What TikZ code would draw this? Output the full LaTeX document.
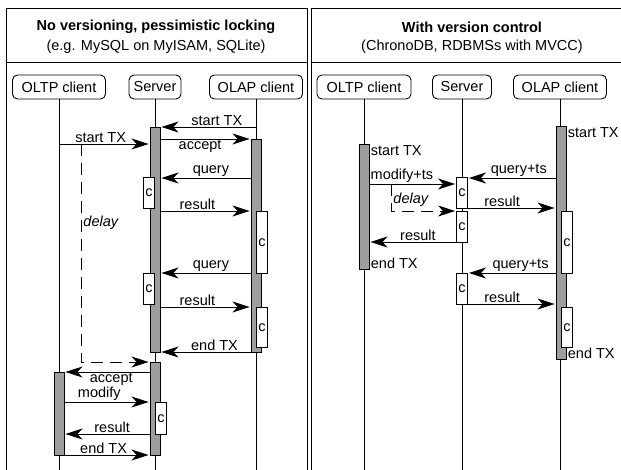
\documentclass[tikz,border=0pt]{standalone}
\usepackage{fontspec}
\setmainfont{Liberation Sans}
\usetikzlibrary{arrows.meta}

\begin{document}
\begin{tikzpicture}[x=1pt, y=-1pt, line width=0.9pt,
    every node/.style={font=\fontsize{14.5}{17}\selectfont},
    head/.style={draw, rounded corners=5pt, minimum height=24pt, inner xsep=1pt},
    bar/.style={draw, fill=black!38, minimum width=10pt, inner sep=0pt, anchor=north},
    cbox/.style={draw, fill=white, minimum width=11pt, inner sep=0pt, anchor=north},
    msg/.style={-{Stealth[length=17pt, width=11pt, inset=5pt]}, shorten >=1pt},
    lbl/.style={inner sep=1pt},
    dly/.style={inner sep=2pt, font=\fontsize{14.5}{17}\selectfont\itshape},
    delayline/.style={dash pattern=on 12pt off 7pt}]
    \useasboundingbox (0,0) rectangle (621,470);

    % Frames
    \draw (6,470) |- (307,8) -- (307,470);
    \draw (6,62) -- (307,62);
    \draw (311,470) |- (621,8);
    \draw (311,62) -- (621,62);

    % Titles
    \node[font=\fontsize{14.5}{17}\selectfont\bfseries] (titleA) at (156,27) {No versioning, pessimistic locking};
    \node (subA) at (156,47) {(e.g. MySQL on MyISAM, SQLite)};
    \node[font=\fontsize{14.5}{17}\selectfont\bfseries] (titleB) at (472,27) {With version control};
    \node (subB) at (472,47) {(ChronoDB, RDBMSs with MVCC)};

    % Participants
    \node[head, minimum width=93pt] (oltpA) at (59,87) {OLTP client};
    \node[head, minimum width=52pt] (srvA) at (155,87) {Server};
    \node[head, minimum width=93pt] (olapA) at (256,87) {OLAP client};
    \node[head, minimum width=94pt] (oltpB) at (364,87) {OLTP client};
    \node[head, minimum width=59pt] (srvB) at (462,87) {Server};
    \node[head, minimum width=93pt] (olapB) at (560,87) {OLAP client};

    % Lifelines
    \foreach \n in {oltpA, srvA, olapA, oltpB, srvB, olapB}
        \draw (\n.south) -- (\n |- 0,470);

    % Activation bars
    \node[bar, minimum height=225pt] (sA1) at (155,127) {};
    \node[bar, minimum height=213pt] (aA1) at (256,139) {};
    \node[bar, minimum height=93pt] (sA2) at (155,362) {};
    \node[bar, minimum height=83pt] (oA1) at (59,372) {};
    \node[bar, minimum height=125pt] (oB1) at (364,144) {};
    \node[bar, minimum height=233pt] (aB1) at (561,126) {};

    % Computation boxes
    \foreach \x/\y/\h [count=\i] in {149/177/31, 262/211/62, 149/273/31, 262/307/40, 161/402/32,
                                     462/177/31, 462/211/31, 462/273/31, 567/211/62, 567/307/40}
        \node[cbox, minimum height=\h pt] (c\i) at (\x,\y) {c};

    % Left: pessimistic locking
    \draw[msg] (olapA |- 0,127) -- node[lbl, above, pos=0.41] {start TX} (sA1.east |- 0,127);
    \draw[msg] (oltpA |- 0,144) -- node[lbl, above, pos=0.46] {start TX} (sA1.west |- 0,144);
    \draw[msg] (sA1.east |- 0,139) -- node[lbl, below, pos=0.44] {accept} (aA1.west |- 0,139);
    \draw[msg] (aA1.west |- 0,178) -- node[lbl, above, pos=0.44] {query} (sA1.east |- 0,178);
    \draw[msg] (sA1.east |- 0,211) -- node[lbl, above, pos=0.41] {result} (aA1.west |- 0,211);
    \draw[msg] (aA1.west |- 0,273) -- node[lbl, above, pos=0.44] {query} (sA1.east |- 0,273);
    \draw[msg] (sA1.east |- 0,307) -- node[lbl, above, pos=0.41] {result} (aA1.west |- 0,307);
    \draw[msg] (aA1.west |- 0,352) -- node[lbl, above, pos=0.40] {end TX} (sA1.east |- 0,352);
    \coordinate (dA) at (81,144);
    \draw[msg, delayline] (dA) -- node[dly, right, pos=0.36] {delay} (dA |- 0,362) -- (sA2.west |- 0,362);
    \draw[msg] (sA2.west |- 0,372) -- node[lbl, below, pos=0.45] {accept} (oA1.east |- 0,372);
    \draw[msg] (oA1.east |- 0,402) -- node[lbl, above, pos=0.41] {modify} (sA2.west |- 0,402);
    \draw[msg] (sA2.west |- 0,434) -- node[lbl, above, pos=0.44] {result} (oA1.east |- 0,434);
    \draw[msg] (oA1.east |- 0,455) -- node[lbl, above, pos=0.46] {end TX} (sA2.west |- 0,455);

    % Right: version control
    \node[lbl, anchor=north west] (stB1) at (oB1.north east) {start TX};
    \node[lbl, anchor=south west] (enB1) at (oB1.south east) {end TX};
    \node[lbl, anchor=north west] (stB2) at (aB1.north east) {start TX};
    \node[lbl, anchor=south west] (enB2) at (aB1.south east) {end TX};
    \draw[msg] (oB1.east |- 0,184) -- node[lbl, above, pos=0.375] {modify+ts} (c6.west |- 0,184);
    \draw[msg] (aB1.west |- 0,178) -- node[lbl, above, pos=0.42] {query+ts} (c6.east |- 0,178);
    \draw[msg] (c6.east |- 0,208) -- node[lbl, above, pos=0.39] {result} (aB1.west |- 0,208);
    \coordinate (dB) at (391,184);
    \draw[msg, delayline] (dB) -- node[dly, right, pos=0.6] {delay} (dB |- 0,211) -- (c7.west |- 0,211);
    \draw[msg] (c7.west |- 0,242) -- node[lbl, above, pos=0.44] {result} (oB1.east |- 0,242);
    \draw[msg] (aB1.west |- 0,273) -- node[lbl, above, pos=0.40] {query+ts} (c8.east |- 0,273);
    \draw[msg] (c8.east |- 0,304) -- node[lbl, above, pos=0.39] {result} (aB1.west |- 0,304);
\end{tikzpicture}
\end{document}
